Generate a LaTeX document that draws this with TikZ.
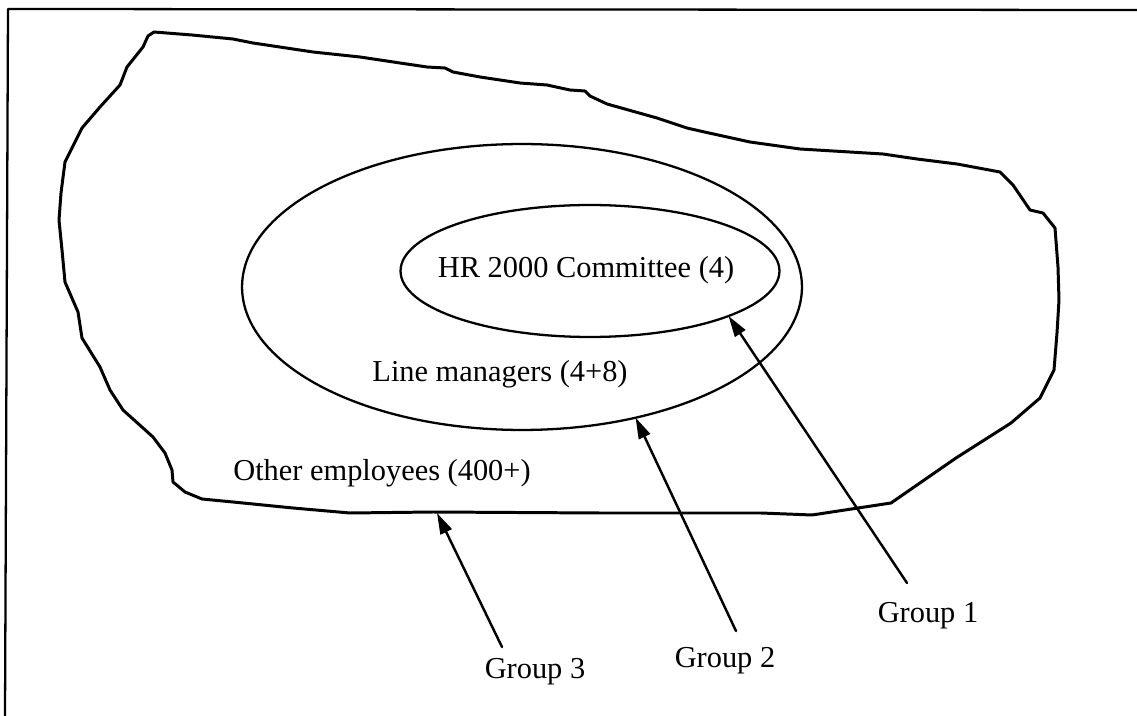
\documentclass[tikz,border=0pt]{standalone}
\usepackage{fontspec}
\setmainfont{Liberation Serif}
\usetikzlibrary{shapes.geometric,arrows.meta}

\begin{document}
\begin{tikzpicture}[x=0.02cm,y=-0.02cm,
    lbl/.style={font=\fontsize{17.3}{20}\selectfont, inner sep=0pt, anchor=base},
    ring/.style={draw, ellipse, line width=1.3pt, inner sep=0pt, outer sep=0pt},
    pointer/.style={line width=1.4pt, -{Triangle[length=12pt,width=7pt]}},
    line join=round, line cap=round]

  % page extent
  \useasboundingbox (0,0) rectangle (1137,716);

  % frame: top and left rules
  \draw[line width=1.3pt] (5,716) -- (8,9) -- (1137,10);

  % the whole workforce: irregular outline
  \draw[line width=1.7pt]
    (154,32) -- (192,35) -- (233,39) -- (253,43) -- (313,52) -- (360,57)
    -- (400,63) -- (427,67) -- (445,68) -- (453,72) -- (480,77) -- (520,83)
    -- (547,85) -- (570,90) -- (585,91) -- (590,96) -- (607,104) -- (657,118)
    -- (687,128) -- (700,131) -- (750,142) -- (800,149) -- (883,154)
    -- (917,159) -- (957,164) -- (1000,172) -- (1013,185) -- (1030,210)
    -- (1043,213) -- (1055,228) -- (1058,267) -- (1059,300) -- (1057,333)
    -- (1054,370) -- (1040,398) -- (1011,423) -- (956,458) -- (891,503)
    -- (812,515) -- (761,513) -- (600,513) -- (433,512) -- (350,513)
    -- (293,508) -- (233,502) -- (202,499) -- (185,492) -- (173,482)
    -- (172,470) -- (165,453) -- (153,437) -- (123,410) -- (110,390)
    -- (100,367) -- (82,338) -- (78,312) -- (65,282) -- (62,250) -- (59,220)
    -- (61,193) -- (65,162) -- (82,128) -- (100,107) -- (120,85) -- (127,67)
    -- (143,47) -- (148,36) -- cycle;
  \coordinate (g3tip) at (437,513);

  % nested groups
  \node[ring, minimum width=11.2cm, minimum height=5.72cm] (managers) at (522,287) {};
  \node[ring, minimum width=7.58cm, minimum height=2.64cm] (committee) at (590,271) {};

  % group names inside the outlines
  \node[lbl] (tcommittee) at (586,278) {HR 2000 Committee (4)};
  \node[lbl] (tmanagers) at (500,382) {Line managers (4+8)};
  \node[lbl] (tothers) at (382,480) {Other employees (400+)};

  % labels below
  \node[lbl] (g1) at (928,622) {Group 1};
  \node[lbl] (g2) at (725,667) {Group 2};
  \node[lbl] (g3) at (535,678) {Group 3};

  \coordinate (g1tail) at (907,583);
  \coordinate (g2tail) at (736,631);
  \coordinate (g3tail) at (502,647);

  % pointers from labels to their groups
  \draw[pointer] (g1tail) -- (committee.-18.4);
  \draw[pointer] (g2tail) -- (managers.-49.6);
  \draw[pointer] (g3tail) -- (g3tip);
\end{tikzpicture}
\end{document}
